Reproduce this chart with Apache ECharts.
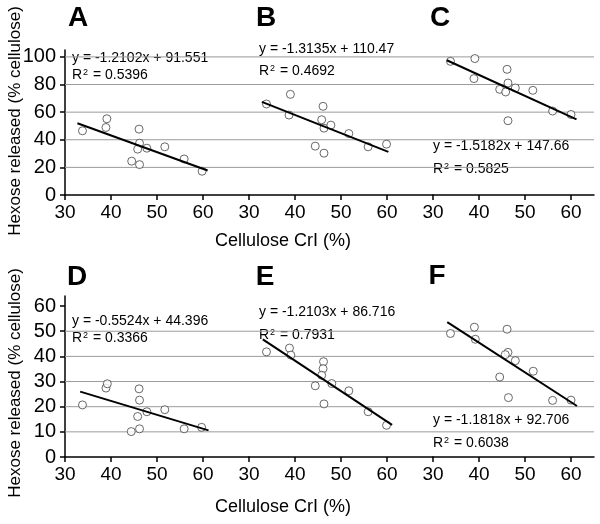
<!DOCTYPE html>
<html>
<head>
<meta charset="utf-8">
<script src="https://cdn.jsdelivr.net/npm/echarts@6/dist/echarts.min.js"></script>
<style>
html,body{margin:0;padding:0;background:#fff;}
#chart{width:600px;height:524px;}
</style>
</head>
<body>
<div id="chart"></div>
<script>
// ---- data ----
const panelLetters = ['A', 'B', 'C', 'D', 'E', 'F'];

const xA = [33.8, 38.9, 39.1, 46.1, 46.2, 45.8, 47.8, 44.5, 46.2, 51.7, 55.9, 59.8];
const yA = [46.5, 48.9, 55.2, 47.7, 37.5, 33.2, 33.9, 24.5, 22.0, 34.9, 26.1, 17.2];
const xB = [33.8, 39.0, 38.7, 46.1, 45.8, 46.3, 47.8, 51.7, 44.4, 46.3, 55.9, 59.9];
const yB = [65.9, 72.9, 57.9, 64.2, 54.5, 48.4, 50.6, 44.5, 35.4, 30.3, 34.9, 36.8];
const xC = [33.8, 39.1, 38.9, 46.1, 46.3, 47.9, 44.5, 45.8, 51.7, 56.0, 60.0, 46.3];
const yC = [96.8, 98.8, 84.3, 91.0, 81.1, 77.5, 76.5, 74.6, 75.8, 60.8, 58.3, 53.8];
const xD = [33.8, 38.9, 39.2, 46.1, 46.2, 45.8, 47.8, 51.7, 44.4, 46.2, 55.9, 59.7];
const yD = [20.7, 27.4, 29.1, 27.1, 22.6, 16.1, 18.0, 18.8, 10.1, 11.2, 11.2, 11.8];
const xE = [33.8, 38.8, 39.1, 46.2, 46.1, 45.8, 48.0, 44.4, 51.7, 46.3, 55.9, 59.9];
const yE = [41.8, 43.3, 40.5, 37.9, 35.1, 32.5, 29.2, 28.3, 26.3, 21.1, 18.0, 12.6];
const xF = [33.8, 39.0, 39.2, 46.1, 46.3, 45.7, 47.9, 51.8, 44.5, 46.4, 56.0, 60.0];
const yF = [49.1, 51.6, 46.8, 50.8, 41.6, 40.7, 38.3, 34.1, 31.8, 23.6, 22.5, 22.6];

// regression equations shown on the chart
const slopes = [-1.2102, -1.3135, -1.5182, -0.5524, -1.2103, -1.1818];
const intercepts = [91.551, 110.47, 147.66, 44.396, 86.716, 92.706];
const slopeText = ['-1.2102', '-1.3135', '-1.5182', '-0.5524', '-1.2103', '-1.1818'];
const interceptText = ['91.551', '110.47', '147.66', '44.396', '86.716', '92.706'];
const r2Text = ['0.5396', '0.4692', '0.5825', '0.3366', '0.7931', '0.6038'];
const fitStart = [32.7, 32.8, 33.0, 33.3, 33.0, 33.1];
const fitEnd = [61.0, 60.3, 61.2, 61.2, 61.1, 61.3];

// tick labels
const xTicks = [30, 40, 50, 60];
const yTicksTop = [0, 20, 40, 60, 80, 100];
const yTicksBottom = [0, 10, 20, 30, 40, 50, 60];
const gridValsTop = [20, 40, 60, 80, 100];
const gridValsBottom = [10, 20, 30, 40, 50];

const xTitle = 'Cellulose CrI (%)';
const yTitle = 'Hexose released (% cellulose)';

// ---- layout ----
const FONT = '"Liberation Sans", Arial, Helvetica, sans-serif';
const xsAll = [xA, xB, xC, xD, xE, xF];
const ysAll = [yA, yB, yC, yD, yE, yF];
const colLeft = [65, 249, 433];
const colWidth = [184, 184, 161];
const colXMax = [70, 70, 65];
const rowTop = [50, 296];
const rowHeight = [145, 161];
const rowYMax = [105, 64];

const letterPos = [[78, 18], [266, 18], [440, 18], [77, 277], [265, 277], [437, 276]];
const eqPos = [[72, 58], [259, 49], [433, 146], [72, 321], [259, 312], [433, 420]];
const r2Pos = [[72, 75], [259, 71], [433, 169], [72, 338], [259, 335], [433, 443]];

const grids = [], xAxes = [], yAxes = [], series = [], graphics = [];

for (let i = 0; i < 6; i++) {
  const row = Math.floor(i / 3), col = i % 3;
  grids.push({
    left: colLeft[col], top: rowTop[row], width: colWidth[col], height: rowHeight[row],
    containLabel: false, outerBoundsMode: 'none'
  });
  xAxes.push({
    gridIndex: i, type: 'value', min: 30, max: colXMax[col],
    axisLine: { show: true, onZero: false, lineStyle: { color: '#000', width: 1.5 } },
    axisTick: { show: true, customValues: xTicks, length: 5, inside: false, lineStyle: { color: '#000', width: 1.5 } },
    axisLabel: { show: true, customValues: xTicks, fontSize: 19, color: '#000', fontFamily: FONT, margin: 8 },
    splitLine: { show: false }
  });
  const yTicks = row === 0 ? yTicksTop : yTicksBottom;
  yAxes.push({
    gridIndex: i, type: 'value', min: 0, max: rowYMax[row],
    show: col === 0,
    axisLine: { show: true, lineStyle: { color: '#000', width: 1.5 } },
    axisTick: { show: true, customValues: yTicks, length: 5, lineStyle: { color: '#000', width: 1.5 } },
    axisLabel: { show: true, customValues: yTicks, fontSize: 20, color: '#000', fontFamily: FONT, margin: 9 },
    splitLine: { show: false }
  });
  // grey horizontal gridlines, spanning the panel
  const gv = row === 0 ? gridValsTop : gridValsBottom;
  gv.forEach(v => {
    series.push({
      type: 'line', xAxisIndex: i, yAxisIndex: i, silent: true,
      data: [[30, v], [colXMax[col], v]],
      symbol: 'none', lineStyle: { type: 'solid', color: '#9a9a9a', width: 1 }, z: 1
    });
  });
  series.push({
    type: 'scatter', xAxisIndex: i, yAxisIndex: i,
    data: xsAll[i].map((x, j) => [x, ysAll[i][j]]),
    symbol: 'circle', symbolSize: 8,
    itemStyle: { color: '#ffffff', borderColor: '#444', borderWidth: 1 },
    z: 3
  });
  series.push({
    type: 'line', xAxisIndex: i, yAxisIndex: i,
    data: [[fitStart[i], slopes[i] * fitStart[i] + intercepts[i]],
           [fitEnd[i], slopes[i] * fitEnd[i] + intercepts[i]]],
    symbol: 'none', lineStyle: { color: '#000', width: 2 }, z: 4
  });

  graphics.push({
    type: 'text', x: letterPos[i][0], y: letterPos[i][1],
    style: { text: panelLetters[i], font: 'bold 28px ' + FONT, fill: '#000', align: 'center', verticalAlign: 'middle' }
  });
  graphics.push({
    type: 'text', x: eqPos[i][0], y: eqPos[i][1],
    style: { text: 'y = ' + slopeText[i] + 'x + ' + interceptText[i], font: '14px ' + FONT, fill: '#000', align: 'left', verticalAlign: 'middle' }
  });
  graphics.push({
    type: 'text', x: r2Pos[i][0], y: r2Pos[i][1],
    style: {
      text: 'R{sup|2} = ' + r2Text[i], font: '14px ' + FONT, fill: '#000', align: 'left', verticalAlign: 'middle',
      rich: { sup: { fontSize: 9, fontFamily: FONT, fill: '#000', verticalAlign: 'top', padding: [0, 1, 0, 1] } }
    }
  });
}

// axis titles
graphics.push({ type: 'text', x: 283, y: 241, style: { text: xTitle, font: '18px ' + FONT, fill: '#000', align: 'center', verticalAlign: 'middle' } });
graphics.push({ type: 'text', x: 283, y: 507, style: { text: xTitle, font: '18px ' + FONT, fill: '#000', align: 'center', verticalAlign: 'middle' } });
graphics.push({ type: 'text', x: 15, y: 121, rotation: Math.PI / 2, style: { text: yTitle, font: '17px ' + FONT, fill: '#000', align: 'center', verticalAlign: 'middle' } });
graphics.push({ type: 'text', x: 15, y: 383, rotation: Math.PI / 2, style: { text: yTitle, font: '17px ' + FONT, fill: '#000', align: 'center', verticalAlign: 'middle' } });

const chart = echarts.init(document.getElementById('chart'), null, { renderer: 'canvas' });
chart.setOption({
  animation: false,
  backgroundColor: '#fff',
  grid: grids, xAxis: xAxes, yAxis: yAxes, series: series, graphic: graphics
});
</script>
</body>
</html>
